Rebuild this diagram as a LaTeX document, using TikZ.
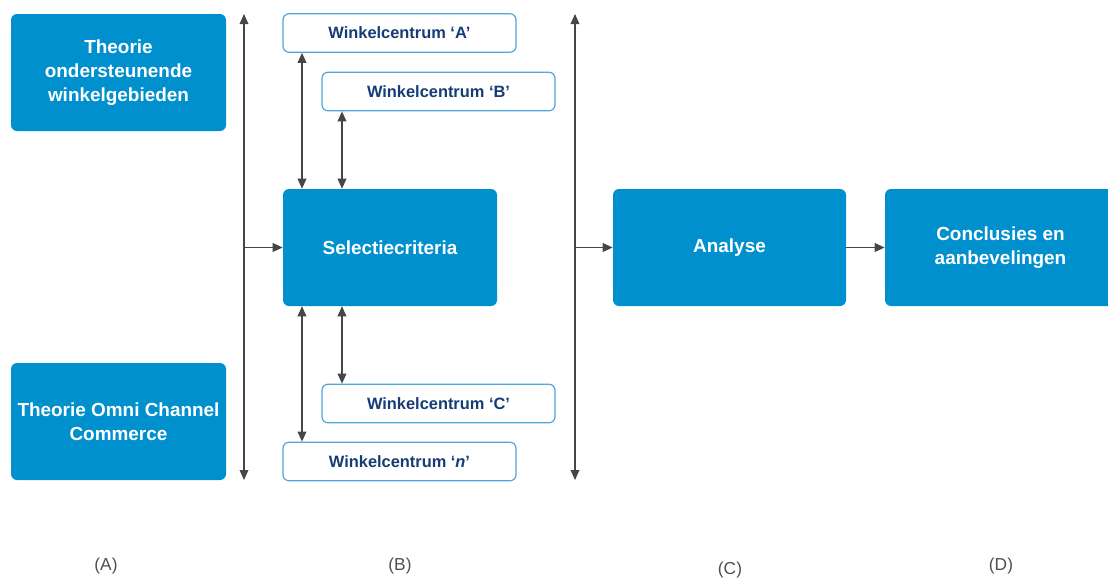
\documentclass[tikz,border=0pt]{standalone}
\usepackage{fontspec}
\setmainfont{Liberation Sans}
\usetikzlibrary{arrows.meta}
\definecolor{boxblue}{RGB}{0,144,206}
\definecolor{rimblue}{RGB}{80,165,218}
\definecolor{navy}{RGB}{22,60,118}
\definecolor{linegray}{RGB}{70,70,70}
\definecolor{labgray}{RGB}{80,80,80}
\tikzset{
  mainbox/.style={draw=none, fill=boxblue, rounded corners=4.5pt, text=white,
    font=\fontsize{14.2}{18}\selectfont\bfseries, align=center, inner sep=0pt,
    minimum height=87.75pt},
  centrebox/.style={draw=rimblue, line width=0.9pt, fill=white, rounded corners=4.5pt,
    text=navy, font=\fontsize{12.3}{14}\selectfont\bfseries, inner sep=0pt,
    minimum width=174.75pt, minimum height=28.9pt},
  link/.style={draw=linegray, line width=1pt,
    arrows={Triangle[length=7.5pt,width=6.5pt]-Triangle[length=7.5pt,width=6.5pt]}},
  feed/.style={draw=linegray, line width=1pt, -{Triangle[length=7.5pt,width=6.5pt]}},
  phase/.style={text=labgray, font=\fontsize{13}{15}\selectfont}
}
\begin{document}
\begin{tikzpicture}[x=0.75pt,y=-0.75pt]
\useasboundingbox (0,0) rectangle (1108,579);
\clip (0,0) rectangle (1108,579);

% theory blocks
\node[mainbox, minimum width=161.25pt] (thA) at (118.5,72.5) {Theorie\\ondersteunende\\winkelgebieden};
\node[mainbox, minimum width=161.25pt] (thB) at (118.5,421.5) {Theorie Omni Channel\\Commerce};

% first collector
\coordinate (v1t) at (244,14);
\coordinate (v1b) at (244,480);
\coordinate (v1m) at (244,247.5);
\draw[link] (v1b) -- (v1t);

% selection criteria and shop centres
\node[mainbox, minimum width=160.5pt] (sel) at (390,247.5) {Selectiecriteria};
\draw[feed] (v1m) -- (sel.west);

\node[centrebox] (wA) at (399.5,33) {Winkelcentrum ‘A’};
\node[centrebox] (wB) at (438.5,91.5) {Winkelcentrum ‘B’};
\node[centrebox] (wC) at (438.5,403.5) {Winkelcentrum ‘C’};
\node[centrebox] (wN) at (399.5,461.5) {Winkelcentrum ‘\textit{n}’};

\coordinate (xa) at (302,0);
\coordinate (xb) at (342,0);
\draw[link] (wA.south -| xa) -- (sel.north -| xa);
\draw[link] (wB.south -| xb) -- (sel.north -| xb);
\draw[link] (sel.south -| xa) -- (wN.north -| xa);
\draw[link] (sel.south -| xb) -- (wC.north -| xb);

% second collector
\coordinate (v2t) at (575,14);
\coordinate (v2b) at (575,480);
\coordinate (v2m) at (575,247.5);
\draw[link] (v2b) -- (v2t);

% analysis and conclusions
\node[mainbox, minimum width=174.75pt] (ana) at (729.5,247.5) {Analyse};
\node[mainbox, minimum width=173.25pt] (con) at (1000.5,247.5) {Conclusies en\\aanbevelingen};
\draw[feed] (v2m) -- (ana.west);
\draw[feed] (ana.east) -- (con.west);

% phase labels
\node[phase] (pA) at (106,566) {(A)};
\node[phase] (pB) at (400,566) {(B)};
\node[phase] (pC) at (730,570) {(C)};
\node[phase] (pD) at (1001,566) {(D)};
\end{tikzpicture}
\end{document}
